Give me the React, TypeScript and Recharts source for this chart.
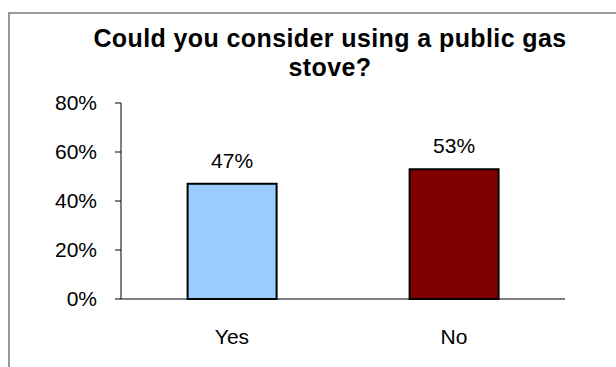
import React from "react";
import { BarChart, Bar, XAxis, YAxis, Cell, LabelList } from "recharts";

const answers = ["Yes", "No"];
const shares = [0.47, 0.53];
const barColors = ["#99ccff", "#800000"];
const yTicks = [0, 0.2, 0.4, 0.6, 0.8];
const edgeTicks = [0, 1, 2];

const chartData = answers.map((answer, i) => ({ answer, share: shares[i] }));

const FONT = "'Liberation Sans', Arial, sans-serif";
const pct = (v: number) => `${Math.round(v * 100)}%`;

export default function App() {
  return (
    <div
      style={{
        position: "absolute",
        left: 0,
        top: 0,
        width: 616,
        height: 367,
        overflow: "hidden",
        background: "#fff",
        fontFamily: FONT,
      }}
    >
      <div
        style={{
          position: "absolute",
          left: 8,
          top: 12,
          width: 700,
          height: 400,
          border: "2px solid #999",
        }}
      />
      <div
        style={{
          position: "absolute",
          left: 30,
          top: 24,
          width: 600,
          textAlign: "center",
          whiteSpace: "nowrap",
          fontWeight: "bold",
          fontSize: 25,
          letterSpacing: 0.4,
          lineHeight: "29px",
          color: "#000",
        }}
      >
        Could you consider using a public gas
        <br />
        stove?
      </div>
      <div style={{ position: "absolute", left: 0, top: 0 }}>
        <BarChart
          width={616}
          height={367}
          data={chartData}
          margin={{ top: 103, right: 51, left: 61, bottom: 28 }}
          barCategoryGap="30%"
        >
          <XAxis
            xAxisId="edge"
            type="number"
            domain={[0, 2]}
            ticks={edgeTicks}
            tick={() => null}
            axisLine={false}
            tickLine={{ stroke: "#888" }}
            tickSize={7}
            height={0}
          />
          <XAxis
            xAxisId="cat"
            dataKey="answer"
            axisLine={{ stroke: "#000" }}
            tickLine={false}
            tickSize={0}
            tickMargin={30}
            height={40}
            tick={{ fill: "#000", fontSize: 21, fontFamily: FONT }}
          />
          <YAxis
            domain={[0, 0.8]}
            ticks={yTicks}
            tickFormatter={pct}
            width={60}
            axisLine={{ stroke: "#000" }}
            tickLine={{ stroke: "#000" }}
            tickSize={6}
            tickMargin={18}
            tick={{ fill: "#000", fontSize: 21, fontFamily: FONT }}
          />
          <Bar
            xAxisId="cat"
            dataKey="share"
            stroke="#000"
            strokeWidth={2}
            isAnimationActive={false}
          >
            {chartData.map((d, i) => (
              <Cell key={d.answer} fill={barColors[i]} />
            ))}
            <LabelList
              dataKey="share"
              position="top"
              offset={16}
              formatter={(v: number) => pct(v)}
              style={{ fill: "#000", fontSize: 21, fontFamily: FONT }}
            />
          </Bar>
        </BarChart>
      </div>
    </div>
  );
}
